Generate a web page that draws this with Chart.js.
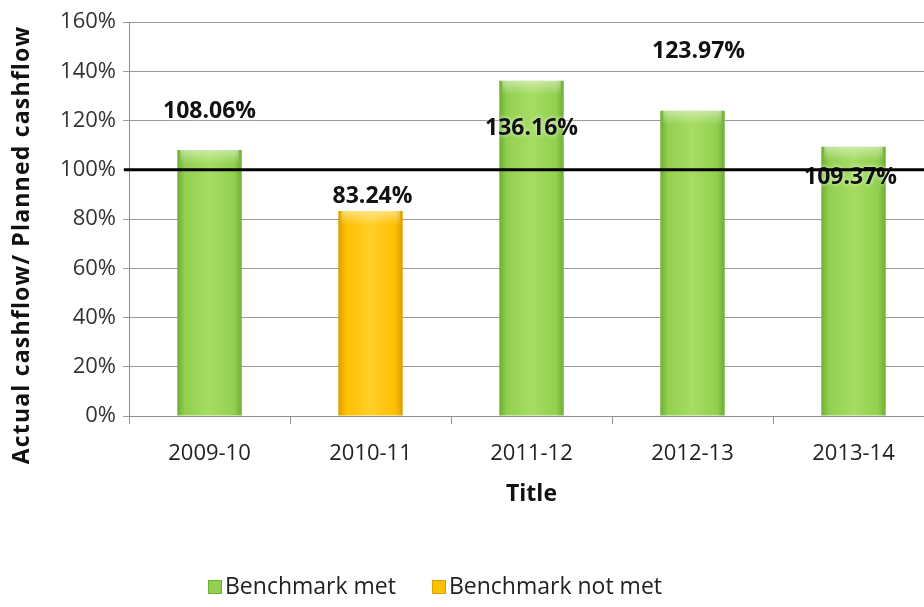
<!DOCTYPE html>
<html>
<head>
<meta charset="utf-8">
<script src="https://cdn.jsdelivr.net/npm/chart.js@4"></script>
<style>
  html, body { margin: 0; padding: 0; background: #fff; overflow: hidden; }
  #wrap { width: 934px; height: 607px; }
</style>
</head>
<body>
<div id="wrap"><canvas id="chart" width="934" height="607"></canvas></div>
<script>
// DATA
const categories = ['2009-10', '2010-11', '2011-12', '2012-13', '2013-14'];
const metValues = [108.06, null, 136.16, 123.97, 109.37];
const notMetValues = [null, 83.24, null, null, null];
const seriesNames = ['Benchmark met', 'Benchmark not met'];
const benchmark = 100;
const yMin = 0, yMax = 160, yStep = 20;

const FONT = "'Open Sans', 'Noto Sans', sans-serif";

// horizontal gradient per bar, darker at the edges like the excel bevel
function barFill(edge, mid, light) {
    return (ctx) => {
        const chart = ctx.chart;
        const x = chart.scales.x;
        if (!x || !chart.chartArea) return mid;
        const c = x.getPixelForValue(ctx.dataIndex);
        const w = (x.width / categories.length) * 0.4;
        const g = chart.ctx.createLinearGradient(c - w / 2, 0, c + w / 2, 0);
        g.addColorStop(0, edge);
        g.addColorStop(0.12, mid);
        g.addColorStop(0.5, light);
        g.addColorStop(0.88, mid);
        g.addColorStop(1, edge);
        return g;
    };
}

// value labels sit where they were dragged to in the original
const valueLabels = {
    id: 'valueLabels',
    afterDatasetsDraw(chart, args, opts) {
        const ctx = chart.ctx;

        // light top bevel on each bar
        ctx.save();
        chart.data.datasets.forEach((ds, di) => {
            chart.getDatasetMeta(di).data.forEach((el, i) => {
                if (ds.data[i] == null) return;
                const g = ctx.createLinearGradient(0, el.y, 0, el.y + 14);
                g.addColorStop(0, 'rgba(255,255,255,0.45)');
                g.addColorStop(1, 'rgba(255,255,255,0)');
                ctx.fillStyle = g;
                ctx.fillRect(el.x - el.width / 2 + 3, el.y, el.width - 6, 14);
            });
        });
        ctx.restore();

        ctx.save();
        ctx.font = 'bold 23px ' + FONT;
        ctx.fillStyle = '#111';
        ctx.textAlign = 'center';
        ctx.textBaseline = 'middle';
        chart.data.datasets.forEach((ds, di) => {
            const meta = chart.getDatasetMeta(di);
            ds.data.forEach((v, i) => {
                if (v == null) return;
                const el = meta.data[i];
                const off = opts.offsets[i];
                ctx.shadowColor = 'rgba(255,255,255,0.9)';
                ctx.shadowBlur = 4;
                ctx.fillText(v.toFixed(2) + '%', el.x + off[0], el.y + off[1]);
            });
        });
        ctx.restore();

        // benchmark line on top
        const y = chart.scales.y.getPixelForValue(benchmark);
        ctx.save();
        ctx.strokeStyle = '#000';
        ctx.lineWidth = 3;
        ctx.beginPath();
        ctx.moveTo(chart.chartArea.left - 5, y);
        ctx.lineTo(chart.chartArea.right, y);
        ctx.stroke();
        ctx.restore();
    }
};

const extras = {
    id: 'extras',
    afterDraw(chart, args, opts) {
        const ctx = chart.ctx;
        // y axis title
        ctx.save();
        ctx.translate(opts.yTitleX, opts.yTitleY);
        ctx.rotate(-Math.PI / 2);
        ctx.font = 'bold 23px ' + FONT;
        ctx.letterSpacing = '1.2px';
        ctx.fillStyle = '#111';
        ctx.textAlign = 'center';
        ctx.textBaseline = 'middle';
        ctx.fillText('Actual cashflow/ Planned cashflow', 0, 0);
        ctx.restore();

        // legend
        ctx.save();
        ctx.font = '23px ' + FONT;
        ctx.textBaseline = 'middle';
        let x = opts.legendX;
        const y = opts.legendY;
        chart.data.datasets.forEach((ds) => {
            ctx.fillStyle = ds.legendColor;
            ctx.fillRect(x, y - 7, 14, 14);
            ctx.strokeStyle = ds.legendEdge;
            ctx.lineWidth = 1;
            ctx.strokeRect(x + 0.5, y - 6.5, 13, 13);
            ctx.fillStyle = '#222';
            ctx.fillText(ds.label, x + 17, y);
            x += 17 + ctx.measureText(ds.label).width + 36;
        });
        ctx.restore();
    }
};

new Chart(document.getElementById('chart'), {
    type: 'bar',
    data: {
        labels: categories,
        datasets: [{
            label: seriesNames[0],
            data: metValues,
            backgroundColor: barFill('#6fae34', '#92d050', '#a6dc62'),
            legendColor: '#92d050',
            legendEdge: '#6fae34',
            barPercentage: 0.4,
            categoryPercentage: 1
        }, {
            label: seriesNames[1],
            data: notMetValues,
            backgroundColor: barFill('#d9a000', '#ffc000', '#ffcf2a'),
            legendColor: '#ffc000',
            legendEdge: '#d9a000',
            barPercentage: 0.4,
            categoryPercentage: 1
        }]
    },
    options: {
        responsive: false,
        animation: false,
        devicePixelRatio: 1,
        layout: { padding: { top: 22, right: 0, bottom: 0, left: 0 } },
        plugins: {
            legend: { display: false },
            tooltip: { enabled: false },
            valueLabels: { offsets: [[0, -38], [2, -15], [0, 48], [6, -59], [-3, 31]] },
            extras: { yTitleX: 22, yTitleY: 245, legendX: 208, legendY: 587 }
        },
        scales: {
            x: {
                stacked: true,
                afterFit: (s) => { s.height = 191; },
                grid: { drawOnChartArea: false, color: '#8f8f8f', tickLength: 8 },
                border: { color: '#8f8f8f' },
                ticks: { color: '#222', padding: 17, font: { family: FONT, size: 22 } },
                title: {
                    display: true,
                    text: 'Title',
                    color: '#111',
                    font: { family: FONT, size: 23, weight: 'bold' },
                    padding: { top: 0, bottom: 99 }
                }
            },
            y: {
                stacked: true,
                min: yMin,
                max: yMax,
                afterFit: (s) => { s.width = 129; },
                grid: { color: '#9a9a9a', tickLength: 6 },
                border: { color: '#8f8f8f' },
                ticks: {
                    stepSize: yStep,
                    padding: 7,
                    color: '#333',
                    font: { family: FONT, size: 22 },
                    callback: (v) => v + '%'
                }
            }
        }
    },
    plugins: [valueLabels, extras]
});
</script>
</body>
</html>
